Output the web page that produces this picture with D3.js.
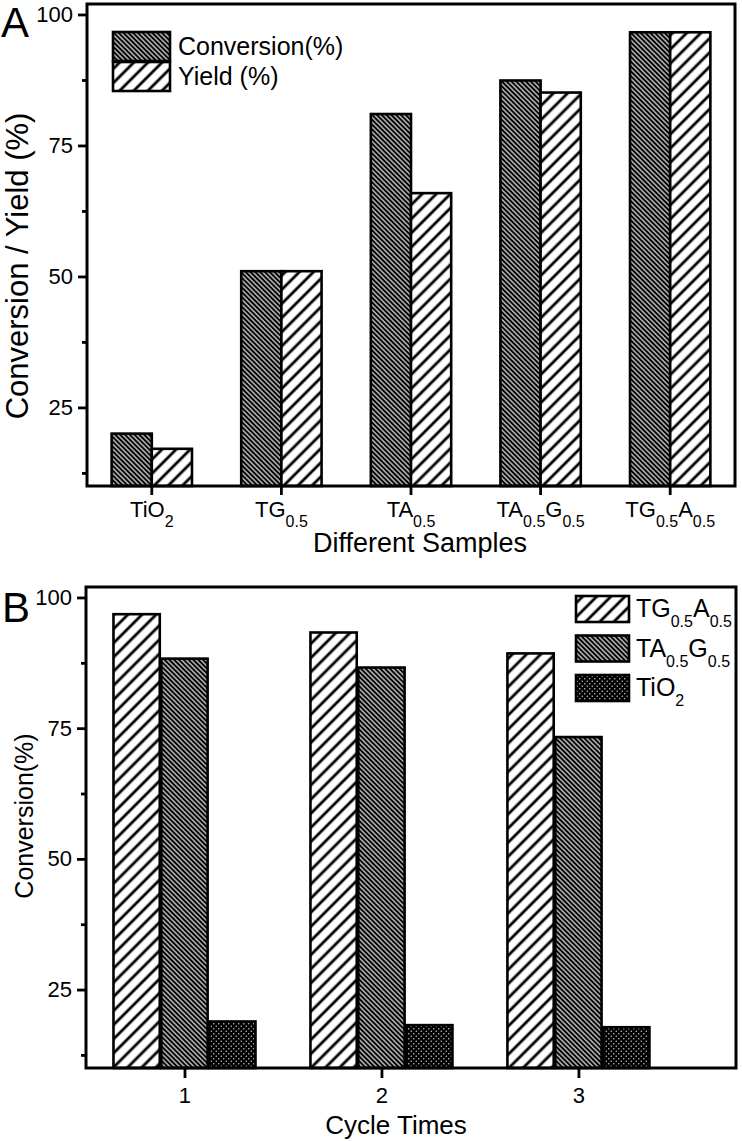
<!DOCTYPE html>
<html>
<head>
<meta charset="utf-8">
<script src="https://cdn.jsdelivr.net/npm/d3@7/dist/d3.min.js"></script>
<style>
  body { margin: 0; background: #fff; }
  text { font-family: "Liberation Sans", Arial, sans-serif; fill: #000; }
</style>
</head>
<body>
<svg id="chart" width="742" height="1141"></svg>
<script>
// panel A data
const samples = ["TiO2", "TG0.5", "TA0.5", "TA0.5G0.5", "TG0.5A0.5"];
const conversion = [20.0, 51.0, 81.0, 87.4, 96.6];
const yieldPct = [17.1, 51.0, 65.9, 85.1, 96.6];
const seriesA = ["Conversion(%)", "Yield (%)"];

// panel B data
const cycles = [1, 2, 3];
const cycleTGA = [96.8, 93.3, 89.3];
const cycleTAG = [88.3, 86.6, 73.3];
const cycleTiO2 = [18.9, 18.2, 17.8];
const seriesB = ["TG0.5A0.5", "TA0.5G0.5", "TiO2"];

const yTicks = [25, 50, 75, 100];
const yMinor = [12.5, 37.5, 62.5, 87.5];

const svg = d3.select("#chart");
const defs = svg.append("defs");

// dense "\\\" hatch, black with thin white lines
const dense = defs.append("pattern")
  .attr("id", "dense")
  .attr("patternUnits", "userSpaceOnUse")
  .attr("width", 3.4).attr("height", 3.4)
  .attr("patternTransform", "rotate(-45)");
dense.append("rect").attr("width", 3.4).attr("height", 3.4).attr("fill", "#000");
dense.append("line").attr("x1", 1.7).attr("x2", 1.7).attr("y1", 0).attr("y2", 3.4)
  .attr("stroke", "#fff").attr("stroke-width", 1.1);

// wide "///" hatch
const wide = defs.append("pattern")
  .attr("id", "wide")
  .attr("patternUnits", "userSpaceOnUse")
  .attr("width", 10).attr("height", 10)
  .attr("patternTransform", "rotate(45)");
wide.append("rect").attr("width", 10).attr("height", 10).attr("fill", "#fff");
wide.append("line").attr("x1", 5).attr("x2", 5).attr("y1", 0).attr("y2", 10)
  .attr("stroke", "#000").attr("stroke-width", 2.8);

// black with small white dots
const dots = defs.append("pattern")
  .attr("id", "dots")
  .attr("patternUnits", "userSpaceOnUse")
  .attr("width", 5).attr("height", 5);
dots.append("rect").attr("width", 5).attr("height", 5).attr("fill", "#000");
dots.append("circle").attr("cx", 1.25).attr("cy", 1.25).attr("r", 0.75).attr("fill", "#ccc");
dots.append("circle").attr("cx", 3.75).attr("cy", 3.75).attr("r", 0.75).attr("fill", "#ccc");

// write a label with numbers as subscripts
function richText(sel, label, subSize, shift) {
  const parts = label.split(/(\d+(?:\.\d+)?)/).filter(s => s !== "");
  let low = false;
  parts.forEach(p => {
    const t = sel.append("tspan").text(p);
    if (/^\d/.test(p)) {
      t.attr("font-size", subSize).attr("dy", low ? 0 : shift);
      low = true;
    } else {
      t.attr("dy", low ? -shift : 0);
      low = false;
    }
  });
}

function styleAxis(g) {
  g.selectAll("path.domain").remove();
  g.selectAll(".tick line").attr("stroke", "#000").attr("stroke-width", 2.8);
}

function drawYAxis(g, y, left, fontSize) {
  g.append("g")
    .attr("transform", `translate(${left},0)`)
    .call(d3.axisLeft(y).tickValues(yTicks).tickSize(9).tickPadding(5))
    .call(styleAxis)
    .selectAll("text").attr("font-size", fontSize).attr("font-family", "Liberation Sans");
  g.append("g")
    .attr("transform", `translate(${left},0)`)
    .call(d3.axisLeft(y).tickValues(yMinor).tickSize(5).tickFormat(""))
    .call(styleAxis);
}

// ---------- Panel A ----------
const A = { left: 87, right: 735, top: 4, bottom: 486 };
const gA = svg.append("g");

const xA = d3.scaleBand().domain(samples).range([A.left, A.right]);
const yA = d3.scaleLinear().domain([10, 102]).range([A.bottom, A.top]);
const groupA = xA.bandwidth() * 0.62;
const x1A = d3.scaleBand().domain(seriesA).range([-groupA / 2, groupA / 2]);
const fillA = { "Conversion(%)": "url(#dense)", "Yield (%)": "url(#wide)" };

const rowsA = samples.map((s, i) => ({ s, vals: [conversion[i], yieldPct[i]] }));

gA.selectAll("g.sample")
  .data(rowsA)
  .join("g")
  .attr("class", "sample")
  .attr("transform", d => `translate(${xA(d.s) + xA.bandwidth() / 2},0)`)
  .selectAll("rect")
  .data(d => d.vals.map((v, j) => ({ key: seriesA[j], v })))
  .join("rect")
  .attr("x", d => x1A(d.key))
  .attr("width", x1A.bandwidth())
  .attr("y", d => yA(d.v))
  .attr("height", d => yA(10) - yA(d.v))
  .attr("fill", d => fillA[d.key])
  .attr("stroke", "#000")
  .attr("stroke-width", 2.6);

gA.append("rect")
  .attr("x", A.left).attr("y", A.top)
  .attr("width", A.right - A.left).attr("height", A.bottom - A.top)
  .attr("fill", "none").attr("stroke", "#000").attr("stroke-width", 3);

drawYAxis(gA, yA, A.left, 22);

const xAxisA = gA.append("g")
  .attr("transform", `translate(0,${A.bottom})`)
  .call(d3.axisBottom(xA).tickSize(9).tickFormat(""))
  .call(styleAxis);
xAxisA.selectAll(".tick").append("text")
  .attr("y", 31)
  .attr("text-anchor", "middle")
  .attr("font-size", 22)
  .each(function (d) { richText(d3.select(this), d, 16, 10); });

gA.append("text")
  .attr("x", 420).attr("y", 552)
  .attr("text-anchor", "middle").attr("font-size", 27)
  .text("Different Samples");

gA.append("text")
  .attr("transform", "translate(28,266) rotate(-90)")
  .attr("text-anchor", "middle").attr("font-size", 31)
  .text("Conversion / Yield (%)");

gA.append("text").attr("x", 1).attr("y", 37).attr("font-size", 42).text("A");

// legend A
const legA = gA.append("g").selectAll("g")
  .data(seriesA)
  .join("g")
  .attr("transform", (d, i) => `translate(113,${32 + i * 30})`);
legA.append("rect")
  .attr("width", 57).attr("height", 29)
  .attr("fill", d => fillA[d])
  .attr("stroke", "#000").attr("stroke-width", 2.6);
legA.append("text")
  .attr("x", 65).attr("y", 23)
  .attr("font-size", 25)
  .text(d => d);

// ---------- Panel B ----------
const B = { left: 86, right: 736, top: 587, bottom: 1068 };
const gB = svg.append("g");

const xB = d3.scaleLinear().domain([0.5, 3.8]).range([B.left, B.right]);
const yB = d3.scaleLinear().domain([10, 102]).range([B.bottom, B.top]);
const barW = 0.235;
const barStep = 0.243;
const fillB = { "TG0.5A0.5": "url(#wide)", "TA0.5G0.5": "url(#dense)", "TiO2": "url(#dots)" };
const valsB = [cycleTGA, cycleTAG, cycleTiO2];

const barsB = [];
cycles.forEach((c, i) => {
  seriesB.forEach((s, j) => {
    barsB.push({ c, s, j, v: valsB[j][i] });
  });
});

gB.selectAll("rect.bar")
  .data(barsB)
  .join("rect")
  .attr("class", "bar")
  .attr("x", d => xB(d.c + (d.j - 1) * barStep - barW / 2))
  .attr("width", d => xB(d.c + barW / 2) - xB(d.c - barW / 2))
  .attr("y", d => yB(d.v))
  .attr("height", d => yB(10) - yB(d.v))
  .attr("fill", d => fillB[d.s])
  .attr("stroke", "#000")
  .attr("stroke-width", 2.6);

gB.append("rect")
  .attr("x", B.left).attr("y", B.top)
  .attr("width", B.right - B.left).attr("height", B.bottom - B.top)
  .attr("fill", "none").attr("stroke", "#000").attr("stroke-width", 3);

drawYAxis(gB, yB, B.left, 22);

gB.append("g")
  .attr("transform", `translate(0,${B.bottom})`)
  .call(d3.axisBottom(xB).tickValues(cycles).tickSize(10).tickPadding(9).tickFormat(d3.format("d")))
  .call(styleAxis)
  .selectAll("text").attr("font-size", 22).attr("font-family", "Liberation Sans");

gB.append("text")
  .attr("x", 396).attr("y", 1134)
  .attr("text-anchor", "middle").attr("font-size", 26)
  .text("Cycle Times");

gB.append("text")
  .attr("transform", "translate(33,816) rotate(-90)")
  .attr("text-anchor", "middle").attr("font-size", 25)
  .text("Conversion(%)");

gB.append("text").attr("x", 2).attr("y", 622).attr("font-size", 42).text("B");

// legend B
const legB = gB.append("g").selectAll("g")
  .data(seriesB)
  .join("g")
  .attr("transform", (d, i) => `translate(576,${596 + i * 39.5})`);
legB.append("rect")
  .attr("width", 53).attr("height", 26)
  .attr("fill", d => fillB[d])
  .attr("stroke", "#000").attr("stroke-width", 2.6);
legB.append("text")
  .attr("x", 60).attr("y", 21)
  .attr("font-size", 25)
  .each(function (d) { richText(d3.select(this), d, 16, 10); });
</script>
</body>
</html>
